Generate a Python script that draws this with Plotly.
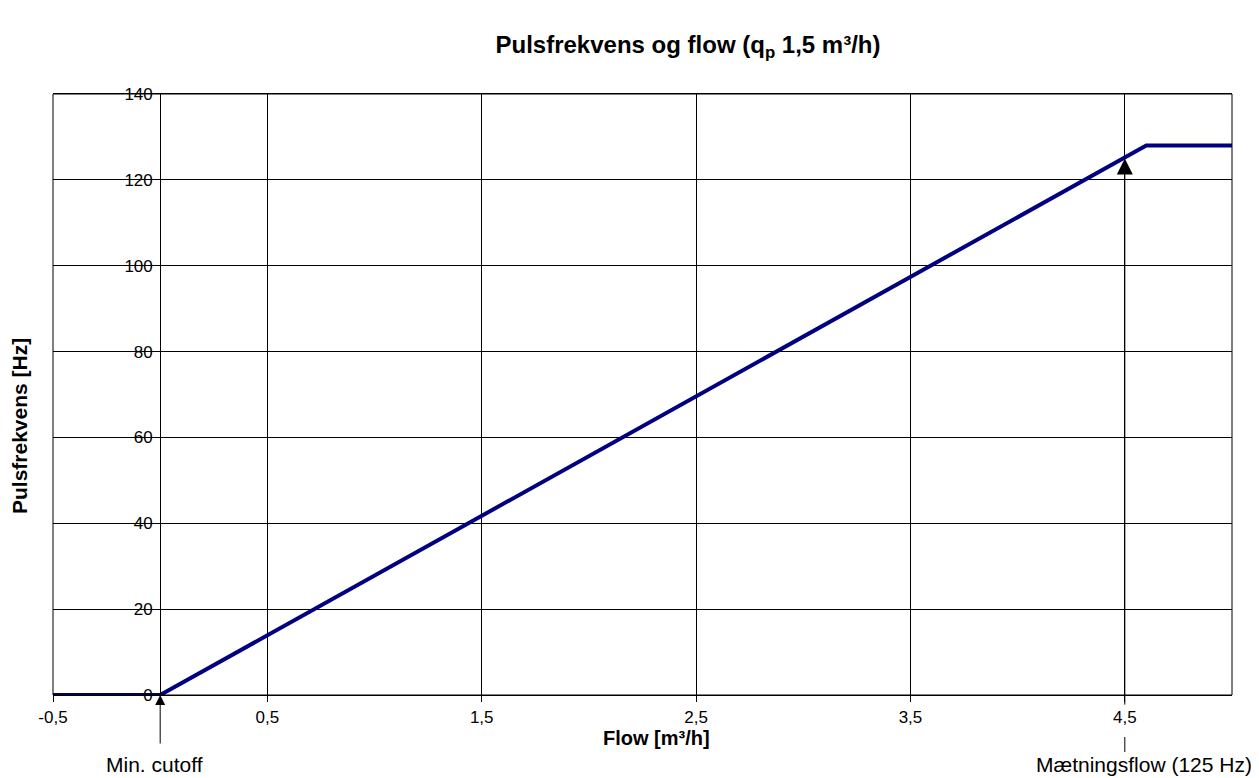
import plotly.graph_objects as go

# Pulse frequency vs flow (qp 1,5 m3/h)
flow = [-0.5, 0.0, 4.6, 5.0]
pulse_hz = [0, 0, 128, 128]

x_ticks = [-0.5, 0.5, 1.5, 2.5, 3.5, 4.5]
x_tick_text = ["-0,5", "0,5", "1,5", "2,5", "3,5", "4,5"]
y_ticks = [0, 20, 40, 60, 80, 100, 120, 140]

cutoff_flow = 0.0
sat_flow = 4.5
sat_hz = 125

FONT = "Liberation Sans, Arial, sans-serif"
X_MIN, X_MAX = -0.5, 5.0

# page body has an 8px margin, so the figure itself is shifted by 8px
W, H = 1259, 778
PLOT_L, PLOT_R, PLOT_T, PLOT_B = 45, 1224, 86, 687
PLOT_H = PLOT_B - PLOT_T
PLOT_W = PLOT_R - PLOT_L

fig = go.Figure()

fig.add_trace(
    go.Scatter(
        x=flow,
        y=pulse_hz,
        mode="lines",
        line=dict(color="#000080", width=4),
        hoverinfo="x+y",
    )
)

fig.update_layout(
    width=W,
    height=H,
    margin=dict(l=PLOT_L, r=W - PLOT_R, t=PLOT_T, b=H - PLOT_B),
    paper_bgcolor="white",
    plot_bgcolor="white",
    showlegend=False,
    font=dict(family=FONT, size=17, color="black"),
    title=dict(
        text="Pulsfrekvens og flow (q<sub>p</sub> 1,5 m³/h)",
        font=dict(family=FONT, size=24, color="black", weight="bold"),
        x=(680 - PLOT_L) / PLOT_W, xref="paper",
        y=1 - 37 / H, yref="container",
        xanchor="center", yanchor="middle",
    ),
    xaxis=dict(
        range=[X_MIN, X_MAX],
        tickvals=x_ticks,
        ticktext=x_tick_text,
        ticks="outside",
        ticklen=6,
        tickcolor="black",
        showgrid=True,
        gridcolor="black",
        gridwidth=1,
        zeroline=False,
        showline=True,
        linecolor="black",
        linewidth=1,
        mirror=True,
        tickfont=dict(family=FONT, size=17),
        ticklabelstandoff=1,
    ),
    yaxis=dict(
        range=[0, 140],
        tickvals=y_ticks,
        anchor="free",
        position=(0 - X_MIN) / (X_MAX - X_MIN),
        ticks="",
        showgrid=True,
        gridcolor="black",
        gridwidth=1,
        zeroline=False,
        showline=True,
        linecolor="black",
        linewidth=1,
        tickfont=dict(family=FONT, size=17),
        ticklabelstandoff=4,
    ),
)

# plot frame
fig.add_shape(
    type="rect", xref="paper", yref="paper",
    x0=0, x1=1, y0=0, y1=1,
    line=dict(color="black", width=1),
)

# axis titles
fig.add_annotation(
    text="<b>Flow [m³/h]</b>",
    xref="paper", yref="paper",
    x=(648 - PLOT_L) / PLOT_W, y=-(43 / PLOT_H),
    xanchor="center", yanchor="middle",
    showarrow=False,
    font=dict(family=FONT, size=20),
)
fig.add_annotation(
    text="<b>Pulsfrekvens [Hz]</b>",
    xref="paper", yref="paper",
    x=-(PLOT_L - 11) / PLOT_W, y=1 - (418 - PLOT_T) / PLOT_H,
    xanchor="center", yanchor="middle",
    textangle=-90,
    showarrow=False,
    font=dict(family=FONT, size=21),
)

# min. cutoff marker
fig.add_annotation(
    x=cutoff_flow, y=0, xref="x", yref="y",
    ax=0, ay=50, axref="pixel", ayref="pixel",
    text="",
    showarrow=True,
    arrowhead=2, arrowsize=2, arrowwidth=1, arrowcolor="black",
    standoff=0,
)
fig.add_annotation(
    text="Min. cutoff",
    x=cutoff_flow, y=0, xref="x", yref="y",
    yshift=-69, xshift=-6,
    xanchor="center", yanchor="middle",
    showarrow=False,
    font=dict(family=FONT, size=21),
)

# saturation flow marker
fig.add_annotation(
    x=sat_flow, y=sat_hz, xref="x", yref="y",
    ax=sat_flow, ay=-2.6, axref="x", ayref="y",
    text="",
    showarrow=True,
    arrowhead=2, arrowsize=3.2, arrowwidth=1, arrowcolor="black",
    standoff=0,
)
fig.add_shape(
    type="line", xref="x", yref="paper",
    x0=sat_flow, x1=sat_flow, y0=-42 / PLOT_H, y1=-57 / PLOT_H,
    line=dict(color="black", width=1),
)
fig.add_annotation(
    text="Mætningsflow (125 Hz)",
    x=sat_flow, y=0, xref="x", yref="y",
    yshift=-69, xshift=19,
    xanchor="center", yanchor="middle",
    showarrow=False,
    font=dict(family=FONT, size=21),
)

fig.write_html("out.html")
